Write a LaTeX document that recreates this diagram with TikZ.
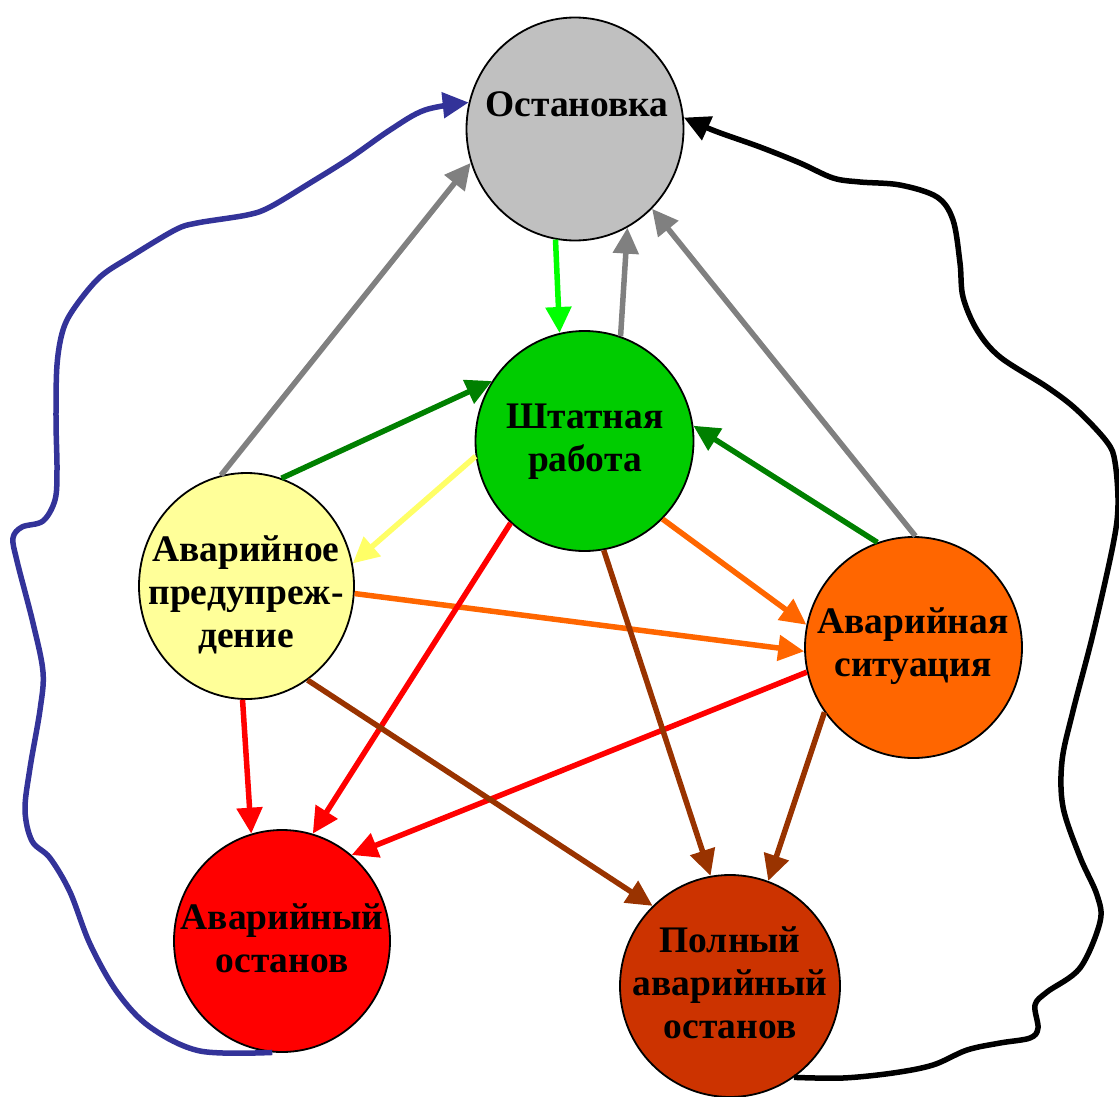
\documentclass[tikz,border=0pt]{standalone}
\usepackage{fontspec}
\setmainfont{Liberation Serif}
\usetikzlibrary{arrows.meta,shapes.geometric}
\definecolor{cO}{HTML}{C0C0C0}
\definecolor{cS}{HTML}{00CC00}
\definecolor{cA}{HTML}{FFFF99}
\definecolor{cSit}{HTML}{FF6600}
\definecolor{cAO}{HTML}{FF0000}
\definecolor{cP}{HTML}{CC3300}
\definecolor{aLime}{HTML}{00FF00}
\definecolor{aGray}{HTML}{808080}
\definecolor{aGreen}{HTML}{008000}
\definecolor{aYellow}{HTML}{FFFF66}
\definecolor{aOrange}{HTML}{FF6600}
\definecolor{aRed}{HTML}{FF0000}
\definecolor{aBrown}{HTML}{993300}
\definecolor{aBlue}{HTML}{333399}
\begin{document}
\begin{tikzpicture}[x=1pt,y=-1pt,
  st/.style={ellipse,draw=black,line width=1.8pt,inner sep=0pt},
  lbl/.style={font=\fontsize{37.5}{43}\selectfont\bfseries,align=center,text=black,inner sep=0pt},
  arr/.style={line width=5.5pt,-{Triangle[length=26pt,width=25pt]}},
  wavy/.style={line width=5.5pt,line join=round,-{Triangle[length=26pt,width=25pt]}}]
\useasboundingbox (0,0) rectangle (1119,1097);
% states
\node[st,fill=cO,minimum width=217pt,minimum height=223pt] (O) at (575,129) {};
\node[st,fill=cS,minimum width=218pt,minimum height=220pt] (S) at (584.5,441) {};
\node[st,fill=cA,minimum width=215pt,minimum height=226pt] (A) at (246.5,586) {};
\node[st,fill=cSit,minimum width=217pt,minimum height=221pt] (Sit) at (913.5,647.5) {};
\node[st,fill=cAO,minimum width=216pt,minimum height=222pt] (AO) at (282,941) {};
\node[st,fill=cP,minimum width=220pt,minimum height=222pt] (P) at (730,986) {};
% straight transitions
\draw[arr,aLime] (O.260) -- (S.103);
\draw[arr,aGray] (S.71) -- (O.-62);
\draw[arr,aGray] (A.103) -- (O.198);
\draw[arr,aGray] (Sit.89) -- (O.-46);
\draw[arr,aGreen] (A.72) -- (S.147);
\draw[arr,aGreen] (Sit.109) -- (S.8);
\draw[arr,aYellow] (S.188) -- (A.12);
\draw[arr,aOrange] (S.-45) -- (Sit.168);
\draw[arr,aOrange] (A.-4) -- (Sit.182);
\draw[arr,aRed] (S.228) -- (AO.74);
\draw[arr,aRed] (A.268) -- (AO.106);
\draw[arr,aRed] (Sit.193) -- (AO.51);
\draw[arr,aBrown] (A.-57) -- (P.134);
\draw[arr,aBrown] (S.-80) -- (P.100);
\draw[arr,aBrown] (Sit.216) -- (P.70);
% curved transitions
\draw[wavy,aBlue] plot[smooth,tension=0.55] coordinates {(AO.265) (200,1051) (150,1027) (117,992) (90,944) (70,892) (50,858) (32,841) (25,810) (30,768) (40,710) (43,672) (33,623) (17,561) (13,538) (22,527) (43,521) (55,500) (57,470) (56,420) (57,365) (63,330) (75,307) (100,277) (130,257) (175,230) (197,223) (247,215) (270,207) (310,183) (350,158) (390,130) (425,110) (O.166)};
\draw[wavy,black] plot[smooth,tension=0.55] coordinates {(P.-55) (843,1078) (893,1073) (933,1065) (967,1050) (1000,1043) (1030,1038) (1038,1028) (1035,1005) (1047,992) (1080,968) (1100,922) (1097,895) (1080,857) (1063,807) (1062,761) (1073,711) (1093,634) (1113,545) (1118,505) (1115,462) (1107,442) (1077,410) (1047,387) (1000,357) (977,330) (963,297) (960,263) (953,220) (937,197) (900,185) (860,182) (833,178) (800,163) (760,147) (715,131) (O.6)};
% labels
\node[lbl] (tO) at (577,108.4) {\strut Остановка};
\node[lbl] (tS) at (585,440.9) {\strut Штатная\\\strut работа};
\node[lbl] (tA) at (246,595.9) {\strut Аварийное\\\strut предупреж-\\\strut дение};
\node[lbl] (tSit) at (913,646.4) {\strut Аварийная\\\strut ситуация};
\node[lbl] (tAO) at (282,941.9) {\strut Аварийный\\\strut останов};
\node[lbl] (tP) at (730,986.4) {\strut Полный\\\strut аварийный\\\strut останов};
\end{tikzpicture}
\end{document}
